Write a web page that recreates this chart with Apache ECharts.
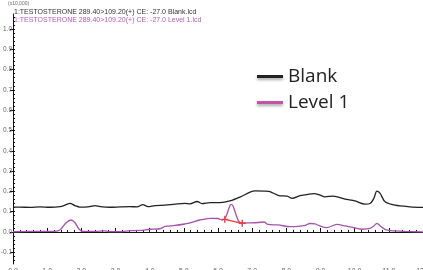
<!DOCTYPE html>
<html><head><meta charset="utf-8">
<script src="https://cdn.jsdelivr.net/npm/echarts@6/dist/echarts.min.js"></script>
<style>html,body{margin:0;padding:0;background:#fff}#c{width:423px;height:270px}</style>
</head><body><div id="c"></div>
<script>
// Retention-axis positions (axis units) and intensities (x10,000)
const blankX = [0,0.2,0.5,0.79,1.08,1.38,1.52,1.67,1.81,1.96,2.25,2.4,2.55,2.84,3.13,3.42,3.63,3.8,3.95,4.16,4.45,4.74,5.03,5.18,5.39,5.53,5.77,6.06,6.35,6.64,6.94,7.08,7.38,7.52,7.81,8.02,8.17,8.4,8.6,8.81,8.99,9.13,9.37,9.72,10.01,10.3,10.45,10.56,10.65,10.74,10.89,11.18,11.62,12];
const blankY = [0.1225,0.1225,0.121,0.1235,0.1216,0.125,0.132,0.1407,0.130,0.1225,0.125,0.130,0.125,0.1216,0.1235,0.125,0.1235,0.1348,0.125,0.130,0.132,0.137,0.1407,0.1387,0.150,0.1397,0.1446,0.1446,0.153,0.1716,0.196,0.2025,0.201,0.1985,0.178,0.1765,0.165,0.179,0.184,0.189,0.181,0.173,0.1765,0.162,0.153,0.137,0.140,0.165,0.201,0.191,0.1485,0.132,0.124,0.121];
const levelX = [0,0.5,1.08,1.32,1.43,1.55,1.7,1.81,1.93,2.05,2.4,2.69,2.84,3.13,3.42,3.72,4.01,4.3,4.45,4.74,5.03,5.18,5.47,5.77,6.0,6.12,6.23,6.32,6.38,6.44,6.53,6.61,6.7,6.94,7.17,7.35,7.46,7.76,8.11,8.34,8.55,8.69,8.84,8.98,9.19,9.48,9.72,10.01,10.21,10.45,10.56,10.65,10.77,10.92,11.18,11.47,12];
const levelY = [0.001,0.0025,0.0025,0.005,0.0196,0.0441,0.0588,0.0466,0.0147,0.0025,0.0025,0.005,0.0015,0.0015,0.0064,0.0074,0.0132,0.0157,0.027,0.0319,0.0392,0.0441,0.0588,0.0672,0.0662,0.0588,0.0735,0.1176,0.1358,0.1275,0.0833,0.0515,0.0441,0.0451,0.0466,0.049,0.0368,0.0343,0.026,0.027,0.0319,0.0417,0.0392,0.0294,0.0211,0.0377,0.0294,0.0196,0.0132,0.0172,0.0294,0.0426,0.027,0.0098,0.0049,0.0025,0];
const baseX = [6.2,6.71];
const baseY = [0.062,0.0426];
const yTickLabels = [-0.1,0.0,0.1,0.2,0.3,0.4,0.5,0.6,0.7,0.8,0.9,1.0];
const xTickLabels = [0,1,2,3,4,5,6,7,8,9,10,11,12];
const seriesNames = ['Blank','Level 1'];

const pair = (xs, ys) => xs.map((x, i) => [x, ys[i]]);
const minorY = [];
for (let i = -7; i <= 53; i++) minorY.push(+(i * 0.02).toFixed(2));

const chart = echarts.init(document.getElementById('c'), null, {renderer: 'canvas'});
const yMin = -0.158, yMax = 1.074;
chart.setOption({
  animation: false,
  grid: {left: 13, right: 0, top: 14, bottom: 6, containLabel: false, outerBoundsMode: 'none'},
  xAxis: {
    type: 'value', min: xTickLabels[0], max: xTickLabels[xTickLabels.length - 1], interval: 1,
    axisLine: {lineStyle: {color: '#111', width: 1}},
    axisTick: {inside: true, length: 4, lineStyle: {color: '#111'}},
    minorTick: {show: true, splitNumber: 5, length: 2, lineStyle: {color: '#111'}},
    splitLine: {show: false},
    axisLabel: {fontSize: 7, color: '#666', margin: 4, formatter: v => v.toFixed(1)}
  },
  yAxis: [{
    type: 'value', min: yMin, max: yMax,
    axisLine: {show: true, lineStyle: {color: '#111', width: 1}},
    axisTick: {show: true, length: 3, customValues: yTickLabels, lineStyle: {color: '#111'}},
    axisLabel: {show: true, customValues: yTickLabels, fontSize: 6.5, color: '#666', margin: 1,
      fontFamily: 'Liberation Sans Narrow, Liberation Sans', formatter: v => v.toFixed(1)},
    splitLine: {show: false}
  }, {
    type: 'value', min: yMin, max: yMax, position: 'left',
    axisLine: {show: false},
    axisTick: {show: true, inside: true, length: 2, customValues: minorY, lineStyle: {color: '#111'}},
    axisLabel: {show: false}, splitLine: {show: false}
  }],
  legend: {
    orient: 'vertical', left: 252, top: 62, itemWidth: 26, itemHeight: 3, itemGap: 7,
    icon: 'rect',
    data: seriesNames,
    textStyle: {fontFamily: 'Open Sans', fontSize: 19, color: '#222', padding: [0, 0, 0, 0]},
    itemStyle: {shadowBlur: 3, shadowColor: 'rgba(0,0,0,0.35)', shadowOffsetY: 2}
  },
  graphic: [
    {type: 'text', left: 8, top: 1, style: {text: '(x10,000)', fontSize: 5, fill: '#666', fontFamily: 'Liberation Sans Narrow, Liberation Sans'}},
    {type: 'text', left: 14, top: 8.5, style: {text: '1:TESTOSTERONE 289.40>109.20(+) CE: -27.0 Blank.lcd', fontSize: 7, fill: '#333', fontFamily: 'Liberation Sans Narrow, Liberation Sans'}},
    {type: 'text', left: 14, top: 16.5, style: {text: '1:TESTOSTERONE 289.40>109.20(+) CE: -27.0 Level 1.lcd', fontSize: 7, fill: '#b35db9', fontFamily: 'Liberation Sans Narrow, Liberation Sans'}}
  ],
  series: [{
    name: seriesNames[0], type: 'line', data: pair(blankX, blankY), showSymbol: false, smooth: 0.3,
    lineStyle: {color: '#222', width: 1.3}, itemStyle: {color: '#222'}
  }, {
    name: seriesNames[1], type: 'line', data: pair(levelX, levelY), showSymbol: false, smooth: 0.3,
    lineStyle: {color: '#a652b0', width: 1.3}, itemStyle: {color: '#c452a8'}
  }, {
    name: 'baseline', type: 'line', data: pair(baseX, baseY), symbol: 'path://M-1,-5h2v4h4v2h-4v4h-2v-4h-4v-2h4z',
    symbolSize: 7, showSymbol: true, lineStyle: {color: '#ee3a3a', width: 1.2}, itemStyle: {color: '#ee3a3a'}, z: 5
  }]
});
</script></body></html>
